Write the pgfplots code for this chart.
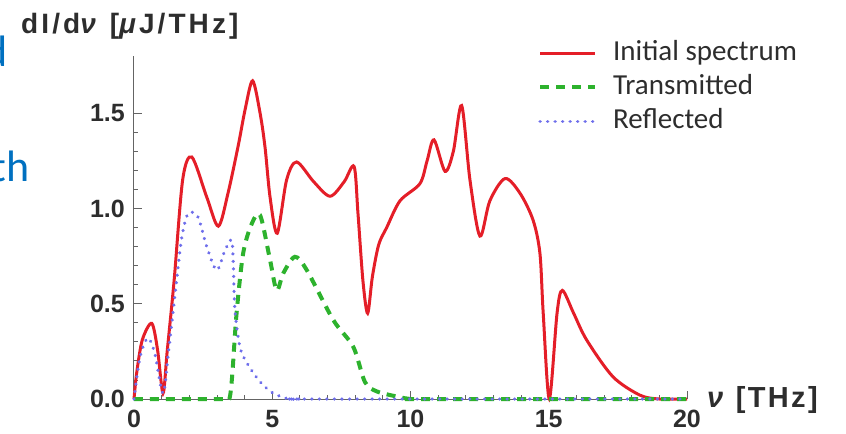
\documentclass[border=0pt]{standalone}
\usepackage{fontspec}
\setmainfont{Liberation Sans}
\newfontfamily\slidefont{Carlito}
\usepackage{pgfplots}
\pgfplotsset{compat=1.18}

\definecolor{specred}{RGB}{228,30,40}
\definecolor{transgreen}{RGB}{45,178,45}
\definecolor{reflblue}{RGB}{110,110,235}
\definecolor{axisgray}{RGB}{100,100,100}
\definecolor{labelgray}{RGB}{45,45,45}
\definecolor{slideblue}{RGB}{0,112,192}

\begin{document}
\begin{tikzpicture}
  \useasboundingbox (-134bp,-35bp) rectangle (712bp,399bp);
  % bits of the slide text left of the chart
  \node[anchor=base east, inner sep=0pt, text=slideblue,
        font=\slidefont\fontsize{44bp}{44bp}\selectfont] at (-126bp,332bp) {d};
  \node[anchor=base east, inner sep=0pt, text=slideblue,
        font=\slidefont\fontsize{44bp}{44bp}\selectfont] at (-104bp,217bp) {th};
  \begin{axis}[
      anchor=origin, at={(0,0)},
      scale only axis, width=553bp, height=343bp,
      xmin=0, xmax=20, ymin=0, ymax=1.8,
      axis lines=left,
      axis line style={-, draw=axisgray, line width=1bp},
      clip=false,
      xtick={0,5,10,15,20}, xticklabels={0,5,10,15,20},
      ytick={0,0.5,1,1.5}, yticklabels={0.0,0.5,1.0,1.5},
      minor x tick num=4, minor y tick num=4,
      tick align=inside,
      major tick length=8bp, minor tick length=4bp,
      tick style={draw=axisgray, line width=0.8bp},
      tick label style={font=\fontsize{25bp}{25bp}\selectfont\bfseries,
                        text=labelgray, inner sep=0pt},
      xticklabel style={yshift=-11bp},
      yticklabel style={xshift=-9bp},
      legend style={draw=none, fill=none,
                    at={(axis description cs:0.725,1.052)}, anchor=north west,
                    font=\slidefont\fontsize{29bp}{29bp}\selectfont,
                    text=labelgray, row sep=8bp, column sep=16bp,
                    nodes={inner sep=0pt, text height=20bp, text depth=6bp}},
      legend cell align=left,
      legend image code/.code={\draw[#1] (0bp,0bp) -- (55bp,0bp);},
    ]
    \addplot[specred, line width=3bp, smooth, tension=0.5] coordinates {
      (0,0) (0.1,0.14) (0.3,0.31) (0.64,0.397) (0.85,0.26) (1.05,0.03)
      (1.2,0.25) (1.45,0.62) (1.76,1.15) (2.09,1.27) (2.63,1.06) (3.05,0.907)
      (3.4,1.08) (3.77,1.33) (4.02,1.52) (4.29,1.67) (4.56,1.5) (4.74,1.32)
      (4.92,1.06) (5.18,0.87) (5.52,1.15) (5.88,1.244) (6.5,1.14) (7.09,1.064)
      (7.6,1.14) (7.96,1.22) (8.1,0.975) (8.28,0.62) (8.45,0.45) (8.62,0.64)
      (8.85,0.81) (9.14,0.9) (9.62,1.04) (10.34,1.13) (10.6,1.25) (10.85,1.36)
      (11.25,1.195) (11.55,1.3) (11.85,1.54) (12.15,1.15) (12.51,0.855)
      (12.87,1.04) (13.42,1.157) (13.96,1.08) (14.43,0.94) (14.68,0.766)
      (14.8,0.45) (15.02,0) (15.3,0.45) (15.49,0.57) (15.9,0.45) (16.37,0.31)
      (17.32,0.117) (18.3,0.02) (19,0) (20,0)};
    \addlegendentry{Initial spectrum}
    \addplot[transgreen, line width=4bp, dash pattern=on 9bp off 7bp,
             smooth, tension=0.5] coordinates {
      (0,0) (3.0,0) (3.3,0) (3.45,0) (3.55,0.12) (3.71,0.45) (3.95,0.766)
      (4.26,0.92) (4.56,0.965) (4.92,0.73) (5.16,0.57) (5.4,0.66) (5.82,0.746)
      (6.25,0.676) (7.21,0.414) (7.93,0.274) (8.35,0.09) (8.78,0.04)
      (9.6,0.01) (10,0) (10.5,0) (20,0)};
    \addlegendentry{Transmitted}
    \addplot[reflblue, line width=3.5bp, line cap=round,
             dash pattern=on 0.01bp off 7.5bp, smooth, tension=0.5] coordinates {
      (0,0) (0.22,0.22) (0.5,0.32) (0.75,0.24) (1.05,0.03) (1.25,0.25)
      (1.54,0.62) (1.73,0.85) (1.96,0.974) (2.31,0.956) (2.63,0.8) (2.99,0.676)
      (3.29,0.78) (3.53,0.834) (3.59,0.71) (3.65,0.467) (3.83,0.274)
      (4.08,0.19) (4.56,0.09) (5.04,0.03) (5.6,0) (6,0) (6.5,0) (20,0)};
    \addlegendentry{Reflected}
    \node[anchor=base, inner sep=0pt, text=labelgray,
          font=\fontsize{28bp}{28bp}\selectfont\bfseries\addfontfeature{LetterSpace=11}]
      at (axis cs:-0.15,1.919) {dI/d\textit{ν} [\textit{μ}J/THz]};
    \node[anchor=base west, inner sep=0pt, text=labelgray,
          font=\fontsize{29bp}{29bp}\selectfont\bfseries\addfontfeature{LetterSpace=8}]
      at (axis cs:20.72,-0.042) {\textit{ν} [THz]};
  \end{axis}
\end{tikzpicture}
\end{document}
